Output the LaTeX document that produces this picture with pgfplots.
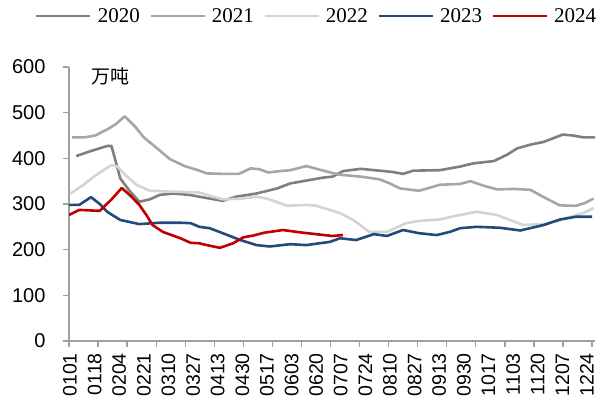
\documentclass[border=0pt]{standalone}
\usepackage{fontspec}
\setmainfont{Liberation Serif}
\newfontfamily\arialf{Liberation Sans}
\newfontfamily\cjk{Noto Sans CJK SC}
\usepackage{pgfplots}
\pgfplotsset{compat=1.18}
\definecolor{c20}{HTML}{7F7F7F}
\definecolor{c21}{HTML}{A6A6A6}
\definecolor{c22}{HTML}{D4D4D4}
\definecolor{c23}{HTML}{24497A}
\definecolor{c24}{HTML}{C00000}
\definecolor{axgray}{HTML}{A0A0A0}

\begin{document}
\begin{tikzpicture}
\begin{axis}[
  scale only axis, width=526pt, height=274pt,
  xmin=1, xmax=360, ymin=0, ymax=600,
  axis x line=bottom, axis y line=left,
  axis line style={-, draw=axgray, line width=1.3pt},
  tick align=outside, major tick length=6pt,
  tick style={draw=axgray, line width=1.3pt},
  xtick={1,20.8333,...,358.5}, xticklabels={},
  % label positions (no tick marks), as in the reference
  extra x ticks={3.05,19.85,...,357},
  extra x tick labels={0101,0118,0204,0221,0310,0327,0413,0430,0517,0603,0620,0707,0724,0810,0827,0913,0930,1017,1103,1120,1207,1224},
  extra x tick style={major tick length=0pt,
    xticklabel style={yshift=-12pt, xshift=-2pt, rotate=90, anchor=east, inner sep=0pt, font=\arialf\fontsize{19.5}{19.5}\selectfont}},
  ytick={0,100,...,600},
  /pgf/number format/assume math mode=true,
  yticklabel style={font=\arialf\fontsize{20}{20}\selectfont, xshift=-14pt},
  every axis plot/.append style={line width=2.6pt, line join=round, no markers},
  legend columns=5,
  legend image code/.code={\draw[#1] (0pt,0pt) -- (54pt,0pt);},
  legend style={at={(0.469,1.186)}, anchor=center, draw=none, fill=none,
    font=\fontsize{21}{21}\selectfont,
    nodes={inner xsep=0pt},
    /tikz/every odd column/.append style={column sep=6pt},
    /tikz/every even column/.append style={column sep=9.5pt}},
]
\addplot[c20] coordinates {(6,405) (15,415) (27,427) (30,427) (36,356) (42,330) (49,305) (56,310) (63,320) (72,323) (83,320) (95,313) (106,307) (115,316) (129,323) (143,334) (152,345) (166,353) (175,358) (181,360) (188,372) (200,377) (213,373) (222,370) (229,366) (236,373) (254,374) (268,382) (277,389) (291,394) (300,408) (307,422) (316,430) (325,436) (338,452) (345,450) (352,446) (360,446)};
\addlegendentry{2020}
\addplot[c21] coordinates {(3,446) (12,446) (19,450) (28,465) (33,475) (39,492) (46,470) (52,446) (60,425) (70,398) (80,383) (90,373) (95,367) (106,366) (117,366) (125,378) (131,376) (137,369) (145,372) (152,374) (163,383) (170,377) (177,371) (186,364) (200,360) (213,354) (220,345) (227,334) (240,329) (254,342) (268,344) (275,350) (284,340) (293,332) (305,333) (316,331) (325,315) (336,297) (347,296) (353,302) (359,312)};
\addlegendentry{2021}
\addplot[c22] coordinates {(2,323) (10,340) (18,360) (25,375) (30,385) (34,382) (40,362) (47,342) (56,329) (72,327) (90,325) (106,310) (120,312) (129,316) (136,312) (150,296) (163,298) (170,296) (175,291) (181,285) (186,280) (195,265) (206,239) (218,239) (231,258) (240,263) (254,266) (262,272) (279,283) (293,276) (311,254) (325,256) (335,263) (343,272) (352,280) (359,291)};
\addlegendentry{2022}
\addplot[c23] coordinates {(1,298) (8,298) (16,315) (22,300) (27,283) (36,265) (49,256) (63,259) (77,259) (84,258) (90,250) (97,247) (106,236) (118,221) (129,210) (138,207) (152,212) (163,210) (172,214) (179,217) (186,225) (197,221) (209,234) (218,230) (229,243) (240,236) (252,232) (261,239) (268,247) (279,250) (295,248) (309,242) (325,254) (336,266) (347,272) (358,272)};
\addlegendentry{2023}
\addplot[c24] coordinates {(1,276) (8,287) (15,286) (22,285) (30,310) (37,335) (43,318) (49,298) (54,275) (58,254) (65,239) (71,232) (77,225) (84,215) (90,214) (95,210) (104,204) (113,214) (120,227) (127,231) (134,237) (147,243) (161,237) (175,232) (181,230) (188,232)};
\addlegendentry{2024}
\node[font=\cjk\fontsize{19}{19}\selectfont] at (rel axis cs:0.078,0.967) {万吨};
\end{axis}
\pgfresetboundingbox
\path[use as bounding box] (-69pt,-62pt) rectangle (528pt,341pt);
\end{tikzpicture}
\end{document}
